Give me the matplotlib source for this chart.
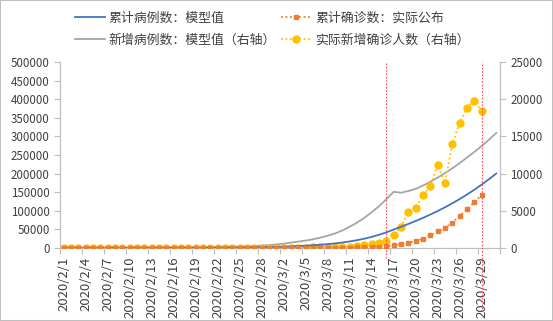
import numpy as np
import pandas as pd
import matplotlib
matplotlib.use("Agg")
import matplotlib.pyplot as plt
from matplotlib.patches import Rectangle

plt.rcParams["font.family"] = ["Noto Sans CJK SC", "DejaVu Sans"]
plt.rcParams["axes.unicode_minus"] = False

# 日期类别 2020/2/1 - 2020/3/31
dates = pd.date_range("2020-02-01", "2020-03-31")
date_labels = [f"{d.year}/{d.month}/{d.day}" for d in dates]

# 累计病例数：模型值（左轴）
model_cum = [
    10, 15, 20, 28, 36, 45, 55, 68, 82, 100,
    120, 145, 175, 210, 250, 300, 355, 420, 495, 580,
    690, 815, 960, 1130, 1330, 1560, 1840, 2160, 2550, 3030,
    3610, 4330, 5190, 6190, 7360, 8760, 10410, 12360, 14710, 17560,
    20960, 25010, 29810, 35410, 41960, 49510, 56940, 64590, 72540, 80920,
    89820, 99270, 109320, 120020, 131420, 143570, 156470, 170170, 184720, 200170,
]

# 新增病例数：模型值（右轴）
model_new = [
    5, 6, 7, 8, 10, 11, 13, 15, 17, 20,
    23, 27, 31, 36, 42, 48, 56, 65, 78, 93,
    110, 125, 145, 170, 200, 235, 275, 320, 390, 480,
    580, 720, 860, 1000, 1170, 1400, 1650, 1950, 2350, 2850,
    3400, 4050, 4800, 5600, 6550, 7550, 7430, 7650, 7950, 8380,
    8900, 9450, 10050, 10700, 11400, 12150, 12900, 13700, 14550, 15450,
]

# 累计确诊数：实际公布（左轴），至 3/29
actual_cum = [
    8, 8, 11, 11, 12, 12, 12, 12, 12, 12,
    13, 13, 14, 15, 15, 15, 15, 25, 25, 25,
    35, 35, 35, 53, 53, 59, 60, 62, 68,
    75, 100, 124, 158, 221, 319, 435, 541, 704, 994,
    1301, 1630, 2183, 2770, 3613, 4600, 7300, 10000, 13500, 18900,
    24300, 34300, 45000, 54000, 68400, 85500, 103500, 123300, 142100,
]

# 实际新增确诊人数（右轴），至 3/29
actual_new = [
    1, 0, 3, 0, 1, 0, 0, 0, 0, 0,
    1, 0, 1, 1, 0, 0, 0, 10, 0, 0,
    10, 0, 0, 18, 0, 6, 1, 2, 6,
    7, 25, 24, 34, 63, 98, 116, 106, 120, 150,
    190, 270, 360, 590, 670, 900, 1750, 2850, 4850, 5400,
    7100, 8300, 11150, 8760, 13950, 16850, 18780, 19820, 18400,
]

# 红色竖线所在日期
marker_dates = ["2020/3/16", "2020/3/29"]

x_model = np.arange(len(model_cum))
x_actual = np.arange(len(actual_cum))

fig = plt.figure(figsize=(5.53, 3.21), dpi=100)
ax = fig.add_axes([0.1085, 0.2274, 0.7955, 0.5796])
ax2 = ax.twinx()

c_blue = "#4472C4"
c_gray = "#A5A5A5"
c_orange = "#ED7D31"
c_yellow = "#FFC000"
txt = "#404040"
spine = "#BFBFBF"

l1, = ax.plot(x_model, model_cum, color=c_blue, lw=1.3, label="累计病例数：模型值", zorder=3)
l3, = ax.plot(x_actual, actual_cum, color=c_orange, lw=1.3, ls=(0, (1, 1.5)),
              marker="s", ms=3, label="累计确诊数：实际公布", zorder=3)
l2, = ax2.plot(x_model, model_new, color=c_gray, lw=1.3, label="新增病例数：模型值（右轴）", zorder=2)
l4, = ax2.plot(x_actual, actual_new, color=c_yellow, lw=1.3, ls=(0, (1, 1.5)),
               marker="o", ms=5, label="实际新增确诊人数（右轴）", zorder=4)

ax.set_zorder(ax2.get_zorder() + 1)
ax.patch.set_visible(False)

ax.set_xlim(-0.5, len(dates) - 0.5)
ax.set_ylim(0, 500000)
ax.set_yticks(np.arange(0, 500001, 50000))
ax2.set_ylim(0, 25000)
ax2.set_yticks(np.arange(0, 25001, 5000))

ax.set_xticks(np.arange(-0.5, len(dates), 3))
ax.set_xticklabels([])
ax.set_xticks(np.arange(0, len(dates), 3), minor=True)
ax.set_xticklabels(date_labels[::3], minor=True, rotation=90)
ax.tick_params(axis="x", which="major", length=4, color=spine)
ax.tick_params(axis="x", which="minor", length=0, labelsize=9.5, labelcolor=txt, pad=6)
ax.tick_params(axis="y", length=4, color=spine, labelsize=8.3, labelcolor=txt)
ax2.tick_params(axis="y", length=4, color=spine, labelsize=8.3, labelcolor=txt)

for a in (ax, ax2):
    a.spines["top"].set_visible(False)
    for s in ("left", "right", "bottom"):
        a.spines[s].set_color(spine)
        a.spines[s].set_linewidth(0.8)

# 红色竖线
for d, ymin in zip(marker_dates, [-0.055, -0.33]):
    xi = date_labels.index(d)
    ax.axvline(xi, ymin=ymin, ymax=1, color="#FF5050", lw=0.8, ls=(0, (1.5, 1.5)),
               clip_on=False, zorder=5)

fig.legend(handles=[l1, l2, l3, l4], ncol=2, loc="upper left",
           bbox_to_anchor=(0.115, 1.0), frameon=False, fontsize=9.3,
           handlelength=2.3, handletextpad=0.3, columnspacing=0.4,
           labelspacing=0.7, labelcolor=txt)

fig.add_artist(Rectangle((0, 0), 1, 1, transform=fig.transFigure, fill=False,
                         ec="#BFBFBF", lw=1.5))

fig.savefig("out.png", dpi=100)
